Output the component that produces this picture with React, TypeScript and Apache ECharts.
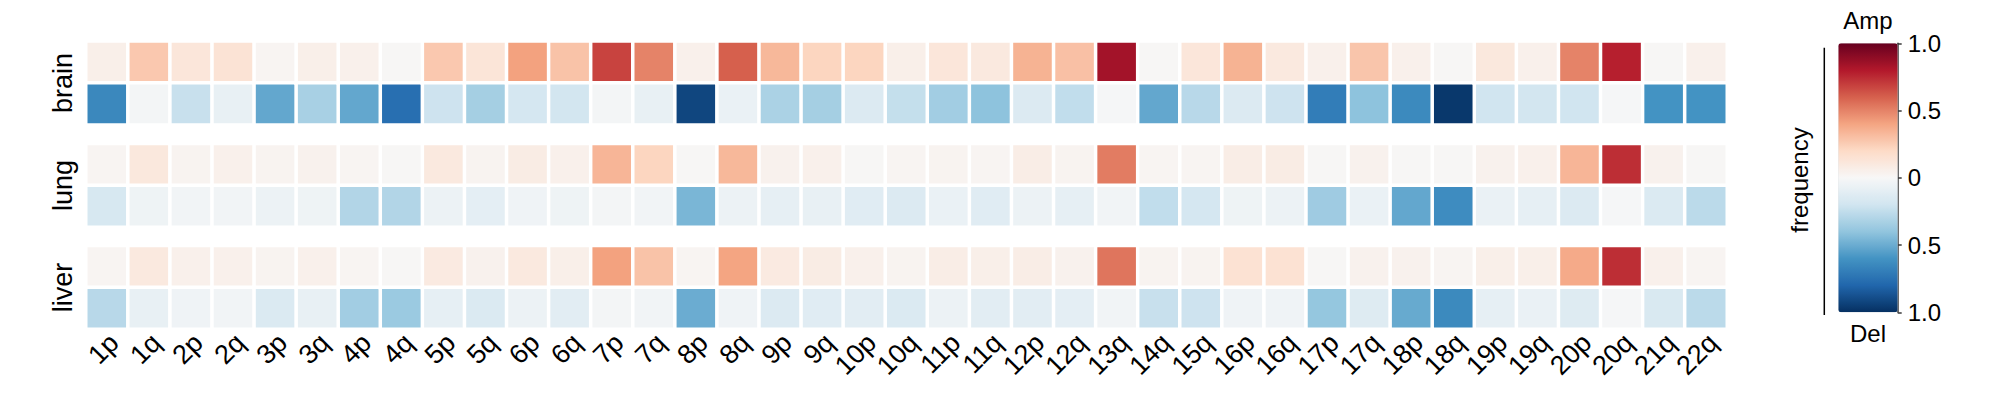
import React, { useEffect, useRef } from 'react';
import * as echarts from 'echarts';

const ARMS = ['1p', '1q', '2p', '2q', '3p', '3q', '4p', '4q', '5p', '5q', '6p', '6q', '7p', '7q', '8p', '8q', '9p', '9q', '10p', '10q', '11p', '11q', '12p', '12q', '13q', '14q', '15q', '16p', '16q', '17p', '17q', '18p', '18q', '19p', '19q', '20p', '20q', '21q', '22q'];
const GROUPS = ['brain', 'lung', 'liver'];
const ROWS = ['Del', 'Amp'];

// amplification frequency (red)
const BRAIN_AMP = [0.06, 0.27, 0.12, 0.14, 0.02, 0.06, 0.05, 0.01, 0.27, 0.13, 0.41, 0.29, 0.68, 0.5, 0.05, 0.6, 0.33, 0.22, 0.22, 0.06, 0.12, 0.1, 0.35, 0.3, 0.84, 0.01, 0.12, 0.35, 0.1, 0.05, 0.28, 0.05, 0.01, 0.11, 0.05, 0.5, 0.78, 0.01, 0.05];
const LUNG_AMP = [0.02, 0.11, 0.03, 0.05, 0.03, 0.04, 0.02, 0.01, 0.1, 0.03, 0.08, 0.05, 0.34, 0.22, 0.01, 0.33, 0.04, 0.05, 0.01, 0.02, 0.03, 0.02, 0.07, 0.03, 0.52, 0.02, 0.02, 0.07, 0.08, 0.01, 0.04, 0.01, 0.01, 0.04, 0.05, 0.34, 0.74, 0.04, 0.01];
const LIVER_AMP = [0.02, 0.1, 0.05, 0.05, 0.03, 0.05, 0.02, 0.01, 0.09, 0.04, 0.1, 0.06, 0.41, 0.29, 0.02, 0.4, 0.09, 0.08, 0.05, 0.03, 0.07, 0.06, 0.07, 0.04, 0.54, 0.03, 0.03, 0.15, 0.15, 0.01, 0.04, 0.04, 0.02, 0.06, 0.06, 0.38, 0.74, 0.05, 0.02];

// deletion frequency (blue)
const BRAIN_DEL = [0.65, 0.02, 0.23, 0.08, 0.52, 0.33, 0.52, 0.76, 0.21, 0.34, 0.18, 0.19, 0.02, 0.08, 0.92, 0.07, 0.32, 0.34, 0.14, 0.24, 0.35, 0.41, 0.14, 0.25, 0.01, 0.52, 0.28, 0.14, 0.21, 0.7, 0.41, 0.64, 0.97, 0.2, 0.19, 0.2, 0.01, 0.6, 0.6];
const LUNG_DEL = [0.17, 0.05, 0.03, 0.03, 0.06, 0.05, 0.3, 0.3, 0.06, 0.1, 0.04, 0.05, 0.02, 0.03, 0.46, 0.06, 0.09, 0.08, 0.12, 0.14, 0.07, 0.12, 0.06, 0.09, 0.03, 0.25, 0.18, 0.05, 0.06, 0.36, 0.07, 0.52, 0.63, 0.07, 0.09, 0.14, 0.01, 0.15, 0.27];
const LIVER_DEL = [0.28, 0.08, 0.04, 0.03, 0.15, 0.08, 0.35, 0.37, 0.09, 0.15, 0.06, 0.11, 0.02, 0.03, 0.5, 0.04, 0.14, 0.12, 0.11, 0.15, 0.06, 0.11, 0.11, 0.1, 0.03, 0.23, 0.21, 0.04, 0.04, 0.39, 0.13, 0.51, 0.64, 0.09, 0.07, 0.13, 0.01, 0.16, 0.27];

const AMP_BY_GROUP = [BRAIN_AMP, LUNG_AMP, LIVER_AMP];
const DEL_BY_GROUP = [BRAIN_DEL, LUNG_DEL, LIVER_DEL];

const RDBU = ['#053061', '#2166ac', '#4393c3', '#92c5de', '#d1e5f0', '#f7f7f7', '#fddbc7', '#f4a582', '#d6604d', '#b2182b', '#67001f'];

const FONT = 'Liberation Sans, Arial, Helvetica, sans-serif';

function groupData(g: number) {
  const out: [number, number, number][] = [];
  ARMS.forEach((_, i) => {
    out.push([i, 1, AMP_BY_GROUP[g][i]]);
    out.push([i, 0, -DEL_BY_GROUP[g][i]]);
  });
  return out;
}

export default function App() {
  const ref = useRef<HTMLDivElement>(null);
  useEffect(() => {
    if (!ref.current) return;
    const chart = echarts.init(ref.current, undefined, { renderer: 'svg' });
    const gridLeft = 86;
    const gridWidth = 1641;
    const gridTops = [41.3, 143.7, 245.7];
    const gridHeight = 83.4;

    const grids: any[] = gridTops.map((t) => ({ left: gridLeft, top: t, width: gridWidth, height: gridHeight, containLabel: false }));
    grids.push({ left: 1897.7, top: 43.3, width: 5, height: 269 });

    const xAxes: any[] = GROUPS.map((_, g) => ({
      type: 'category',
      gridIndex: g,
      data: ARMS,
      axisLine: { show: false },
      axisTick: { show: false },
      splitLine: { show: false },
      axisLabel: {
        show: g === 2,
        interval: 0,
        rotate: 45,
        fontSize: 27,
        lineHeight: 20,
        verticalAlign: 'top',
        color: '#000',
        margin: 2,
        fontFamily: FONT,
      },
    }));
    xAxes.push({ type: 'value', gridIndex: 3, show: false });

    const yAxes: any[] = GROUPS.map((_, g) => ({
      type: 'category',
      gridIndex: g,
      data: ROWS,
      axisLine: { show: false },
      axisTick: { show: false },
      axisLabel: { show: false },
      splitLine: { show: false },
    }));
    yAxes.push({
      type: 'value',
      gridIndex: 3,
      position: 'right',
      min: -1,
      max: 1,
      interval: 0.5,
      axisLine: { show: true, lineStyle: { color: '#3a3a3a', width: 1.5 } },
      axisTick: { show: true, length: 4, lineStyle: { color: '#3a3a3a', width: 1.5 } },
      splitLine: { show: false },
      axisLabel: {
        margin: 5,
        fontSize: 24,
        color: '#000',
        fontFamily: FONT,
        formatter: (v: number) => (v === 0 ? '0' : Math.abs(v).toFixed(1)),
      },
    });

    const series: any[] = GROUPS.map((_, g) => ({
      type: 'heatmap',
      xAxisIndex: g,
      yAxisIndex: g,
      data: groupData(g),
      itemStyle: { borderColor: '#ffffff', borderWidth: 3.5 },
      emphasis: { disabled: true },
    }));

    const groupCenters = gridTops.map((t) => t + gridHeight / 2);

    const graphic: any[] = GROUPS.map((name, g) => ({
      type: 'text',
      x: 63,
      y: groupCenters[g],
      rotation: Math.PI / 2,
      style: { text: name, font: `27px ${FONT}`, fill: '#000', align: 'center', verticalAlign: 'middle' },
    }));
    graphic.push(
      { type: 'text', x: 1868, y: 20, style: { text: 'Amp', font: `24px ${FONT}`, fill: '#000', align: 'center', verticalAlign: 'middle' } },
      { type: 'text', x: 1868, y: 333, style: { text: 'Del', font: `24px ${FONT}`, fill: '#000', align: 'center', verticalAlign: 'middle' } },
      { type: 'text', x: 1799, y: 180, rotation: Math.PI / 2, style: { text: 'frequency', font: `24px ${FONT}`, fill: '#000', align: 'center', verticalAlign: 'middle' } },
      { type: 'line', shape: { x1: 1824.3, y1: 47.7, x2: 1824.3, y2: 315 }, style: { stroke: '#000', lineWidth: 1.5 } }
    );

    chart.setOption({
      animation: false,
      backgroundColor: '#ffffff',
      textStyle: { fontFamily: FONT },
      grid: grids,
      xAxis: xAxes,
      yAxis: yAxes,
      visualMap: {
        type: 'continuous',
        min: -1,
        max: 1,
        seriesIndex: [0, 1, 2],
        orient: 'vertical',
        left: 1838.3,
        top: 43.3,
        itemWidth: 59.4,
        itemHeight: 269,
        padding: 0,
        calculable: false,
        hoverLink: false,
        inRange: { color: RDBU },
      },
      series,
      graphic,
    });
    return () => chart.dispose();
  }, []);
  return <div ref={ref} style={{ position: 'fixed', left: 0, top: 0, width: 1996, height: 395 }} />;
}
